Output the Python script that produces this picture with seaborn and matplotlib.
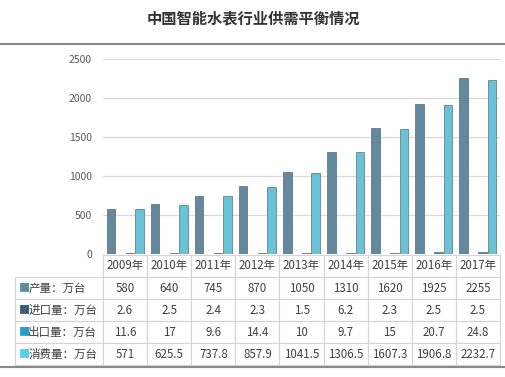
import pandas as pd
import matplotlib.pyplot as plt
import seaborn as sns

# data
years = ["2009年", "2010年", "2011年", "2012年", "2013年",
         "2014年", "2015年", "2016年", "2017年"]
series = ["产量：万台", "进口量：万台", "出口量：万台", "消费量：万台"]
production = [580, 640, 745, 870, 1050, 1310, 1620, 1925, 2255]
imports = [2.6, 2.5, 2.4, 2.3, 1.5, 6.2, 2.3, 2.5, 2.5]
exports = [11.6, 17, 9.6, 14.4, 10, 9.7, 15, 20.7, 24.8]
consumption = [571, 625.5, 737.8, 857.9, 1041.5, 1306.5, 1607.3, 1906.8, 2232.7]
colors = ["#5b8ca6", "#3c5f73", "#2f9cc4", "#55cfea"]

sns.set_style("white")
plt.rcParams["font.family"] = ["Noto Sans CJK SC", "DejaVu Sans"]

values = [production, imports, exports, consumption]
df = pd.DataFrame({
    "year": years * 4,
    "series": [s for s in series for _ in years],
    "value": [v for vals in values for v in vals],
})

fig = plt.figure(figsize=(5.06, 3.77), dpi=100)
ax = fig.add_axes([0.2036, 0.3263, 0.7846, 0.5172])

sns.barplot(data=df, x="year", y="value", hue="series", palette=colors,
            width=0.86, gap=0.1, ax=ax, legend=False, edgecolor="#3a5566",
            linewidth=0.4)

ax.set_ylim(0, 2500)
ax.set_yticks(range(0, 2501, 500))
ax.yaxis.grid(True, color="#d9d9d9", linewidth=0.9)
ax.set_axisbelow(True)
ax.tick_params(axis="y", labelsize=7.5, labelcolor="#595959", length=0, pad=8)
ax.set_xticks([])
ax.set_xlabel("")
ax.set_ylabel("")
for side in ["top", "right", "left", "bottom"]:
    ax.spines[side].set_visible(False)

# data table below the plot (bbox covers the year columns only)
label_w = 0.2217
tbl_y, tbl_h = -0.57, 0.565
cell_text = [[f"{v:g}" for v in vals] for vals in values]
tbl = ax.table(cellText=cell_text, rowLabels=series, colLabels=years,
               colWidths=[1 / 9] * 9, cellLoc="center", rowLoc="left",
               bbox=[0, tbl_y, 1, tbl_h])
tbl._autoColumns = []
tbl.auto_set_font_size(False)
for (r, c), cell in tbl.get_celld().items():
    cell.set_edgecolor("#d4d4d4")
    cell.set_linewidth(0.8)
    cell.get_text().set_fontsize(8.3)
    cell.get_text().set_color("#404040")
    if c == -1:
        cell.set_width(label_w)
        cell.PAD = 0.15

# small colour keys in the row labels
for i, col in enumerate(colors):
    y = tbl_y + tbl_h * (4 - i - 0.5) / 5
    ax.text(-label_w + 0.01, y, "■", color=col, fontsize=8,
            transform=ax.transAxes, va="center", ha="left", clip_on=False)

fig.text(0.5, 0.952, "中国智能水表行业供需平衡情况", ha="center", va="center",
         fontsize=11, fontweight="bold", color="#333333")
fig.add_artist(plt.Line2D([0, 1], [0.883, 0.883], color="#8a8a8a",
                          linewidth=1.5, transform=fig.transFigure))
fig.add_artist(plt.Line2D([0, 1], [0.026, 0.026], color="#8a8a8a",
                          linewidth=1.5, transform=fig.transFigure))

plt.savefig("out.png", dpi=100)
